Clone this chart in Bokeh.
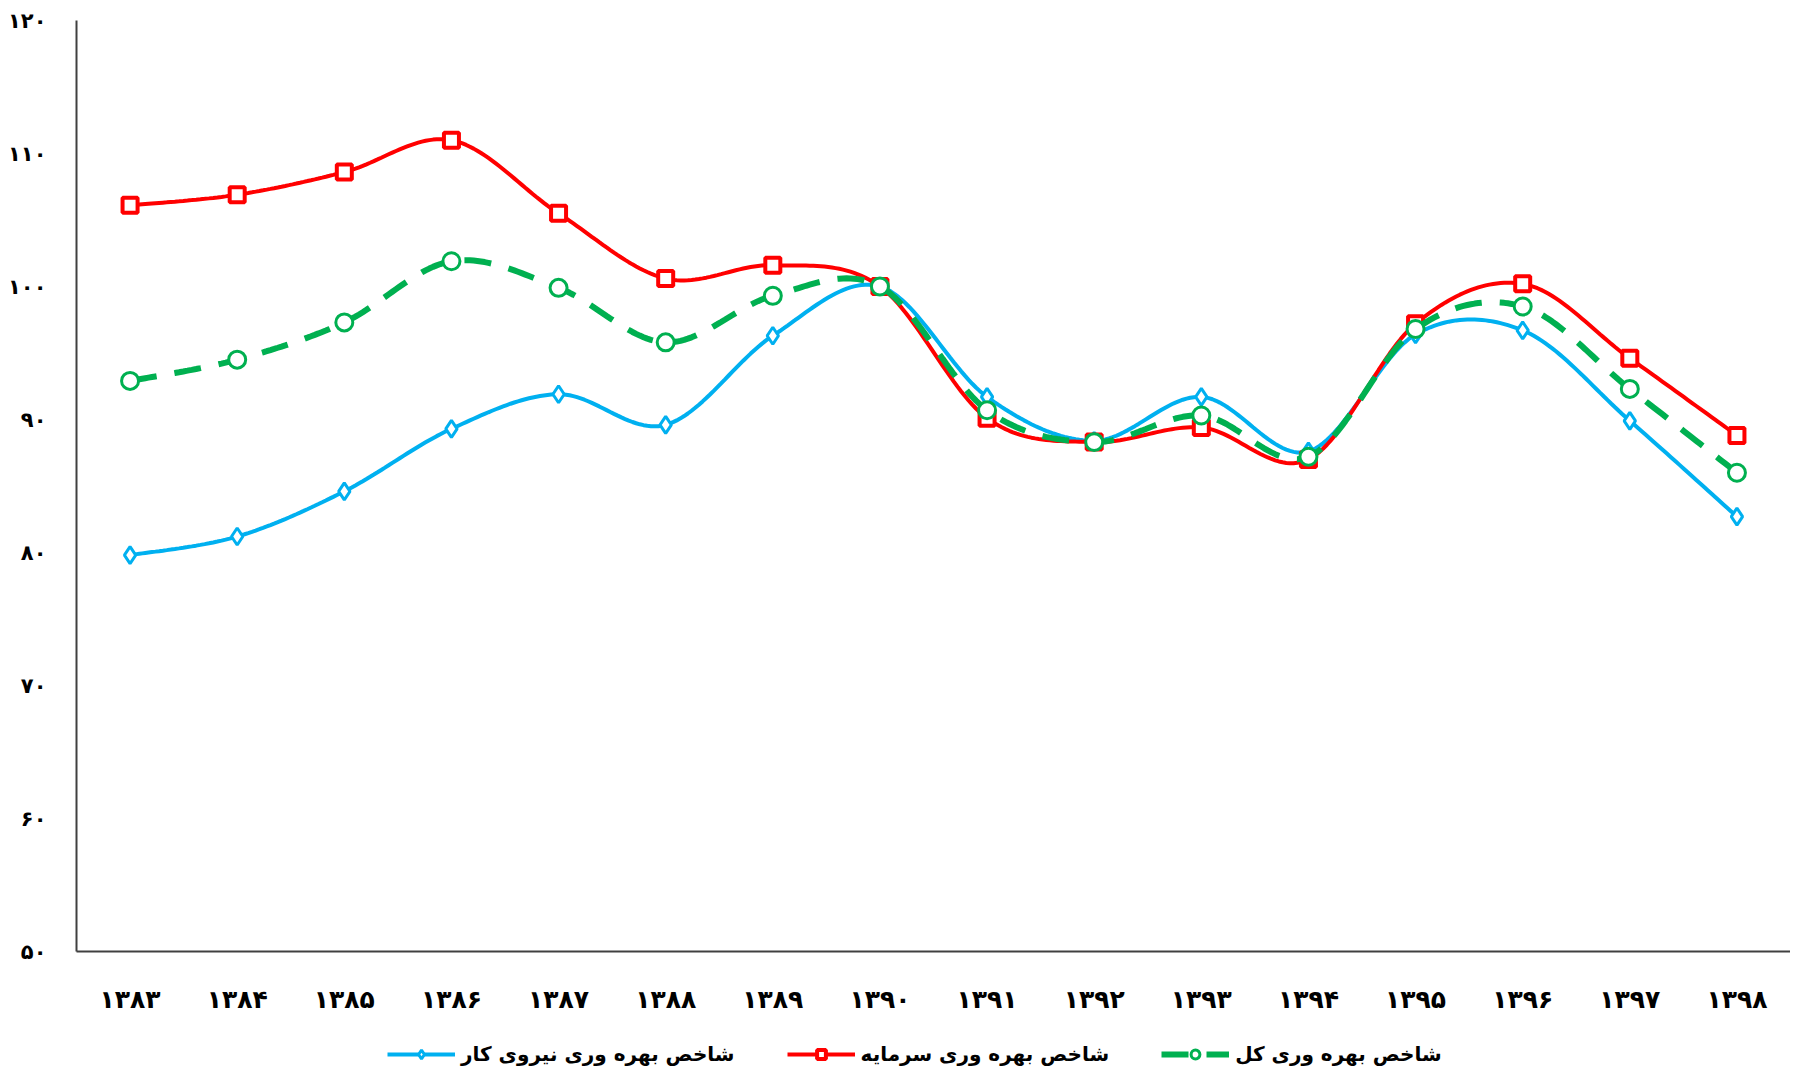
import numpy as np
from bokeh.plotting import figure
from bokeh.layouts import column
from bokeh.models import FixedTicker, Range1d, Legend, LegendItem
from bokeh.embed import file_html
from bokeh.resources import INLINE

# ---- data ----
years = ["۱۳۸۳", "۱۳۸۴", "۱۳۸۵", "۱۳۸۶", "۱۳۸۷", "۱۳۸۸", "۱۳۸۹", "۱۳۹۰",
         "۱۳۹۱", "۱۳۹۲", "۱۳۹۳", "۱۳۹۴", "۱۳۹۵", "۱۳۹۶", "۱۳۹۷", "۱۳۹۸"]
labor = [79.8, 81.2, 84.6, 89.3, 91.9, 89.6, 96.3, 100.0,
         91.7, 88.4, 91.7, 87.6, 96.4, 96.7, 89.9, 82.7]
capital = [106.1, 106.9, 108.6, 111.0, 105.5, 100.6, 101.6, 100.0,
           90.1, 88.3, 89.4, 87.0, 97.2, 100.2, 94.6, 88.8]
total = [92.9, 94.5, 97.3, 101.9, 99.9, 95.8, 99.3, 100.0,
         90.7, 88.3, 90.3, 87.2, 96.8, 98.5, 92.3, 86.0]
y_ticks = [50, 60, 70, 80, 90, 100, 110, 120]
y_tick_labels = ["۵۰", "۶۰", "۷۰", "۸۰", "۹۰", "۱۰۰", "۱۱۰", "۱۲۰"]
names = ["شاخص بهره وری نیروی کار", "شاخص بهره وری سرمایه", "شاخص بهره وری کل"]

FONT = "DejaVu Sans"
BLUE, RED, GREEN = "#00B0F0", "#FF0000", "#00B050"


def smooth(xs, ys, n=30):
    """Catmull-Rom style cubic Bezier through the points (like a spreadsheet 'smoothed line')."""
    xs = np.asarray(xs, float)
    ys = np.asarray(ys, float)
    px = np.concatenate([[xs[0]], xs, [xs[-1]]])
    py = np.concatenate([[ys[0]], ys, [ys[-1]]])
    ox, oy = [], []
    t = np.linspace(0, 1, n)
    for i in range(1, len(px) - 2):
        p0x, p1x, p2x, p3x = px[i - 1], px[i], px[i + 1], px[i + 2]
        p0y, p1y, p2y, p3y = py[i - 1], py[i], py[i + 1], py[i + 2]
        c1x, c1y = p1x + (p2x - p0x) / 6, p1y + (p2y - p0y) / 6
        c2x, c2y = p2x - (p3x - p1x) / 6, p2y - (p3y - p1y) / 6
        bx = (1 - t) ** 3 * p1x + 3 * (1 - t) ** 2 * t * c1x + 3 * (1 - t) * t ** 2 * c2x + t ** 3 * p2x
        by = (1 - t) ** 3 * p1y + 3 * (1 - t) ** 2 * t * c1y + 3 * (1 - t) * t ** 2 * c2y + t ** 3 * p2y
        if i > 1:
            bx, by = bx[1:], by[1:]
        ox.extend(bx)
        oy.extend(by)
    return ox, oy


xpos = [i + 0.5 for i in range(len(years))]

LEFT, FW, TOP, FH, BOT = 76, 1714, 20, 931, 62
p = figure(frame_width=FW, frame_height=FH, output_backend="svg", toolbar_location=None,
           x_range=Range1d(0, len(years)), y_range=Range1d(50, 120),
           min_border_left=LEFT, min_border_right=0, min_border_top=TOP, min_border_bottom=BOT)
p.outline_line_color = None
p.xgrid.visible = False
p.ygrid.visible = False

for ax in (p.xaxis[0], p.yaxis[0]):
    ax.axis_line_color = "#404040"
    ax.axis_line_width = 2
    ax.major_tick_line_color = None
    ax.minor_tick_line_color = None
    ax.major_label_text_font = FONT
    ax.major_label_text_font_style = "bold"
    ax.major_label_text_color = "black"

p.xaxis.ticker = FixedTicker(ticks=xpos)
p.xaxis.major_label_overrides = {x: y for x, y in zip(xpos, years)}
p.xaxis.major_label_text_font_size = "25px"
p.xaxis.major_label_standoff = 27

p.yaxis.ticker = FixedTicker(ticks=y_ticks)
p.yaxis.major_label_overrides = {t: l for t, l in zip(y_ticks, y_tick_labels)}
p.yaxis.major_label_text_font_size = "21px"
p.yaxis.major_label_standoff = 24

SPECS = [
    (labor, dict(line_color=BLUE, line_width=4),
     dict(marker="diamond", size=17, fill_color="white", line_color=BLUE, line_width=3)),
    (capital, dict(line_color=RED, line_width=4),
     dict(marker="square", size=15, fill_color="white", line_color=RED, line_width=4)),
    (total, dict(line_color=GREEN, line_width=6, line_dash="27 18"),
     dict(marker="circle", size=17, fill_color="white", line_color=GREEN, line_width=3)),
]

for vals, lkw, mkw in SPECS:
    sx, sy = smooth(xpos, vals)
    p.line(sx, sy, **lkw)
    p.scatter(xpos, vals, **mkw)

# legend strip below the chart (proxy renderers placed outside the visible range)
LH = 1077 - (TOP + FH + BOT)
q = figure(width=LEFT + FW, height=LH, output_backend="svg", toolbar_location=None,
           x_range=Range1d(0, 1), y_range=Range1d(0, 1),
           x_axis_location=None, y_axis_location=None,
           min_border_left=0, min_border_right=0, min_border_top=0, min_border_bottom=0)
q.outline_line_color = None
q.xgrid.visible = False
q.ygrid.visible = False
items = []
for name, (vals, lkw, mkw) in zip(names, SPECS):
    l = q.line([-5, -4], [-5, -4], **lkw)
    m = q.scatter([-5], [-5], **mkw)
    items.append(LegendItem(label=name, renderers=[l, m]))
legend = Legend(items=items, orientation="horizontal", location=(311, 14),
                label_text_font=FONT, label_text_font_style="bold", label_text_color="black",
                label_text_font_size="20px", glyph_width=68, glyph_height=22,
                spacing=52, label_standoff=6, border_line_color=None,
                background_fill_alpha=0, margin=0, padding=0)
q.add_layout(legend)

layout = column(p, q, spacing=0)
open("out.html", "w").write(file_html(layout, INLINE))
